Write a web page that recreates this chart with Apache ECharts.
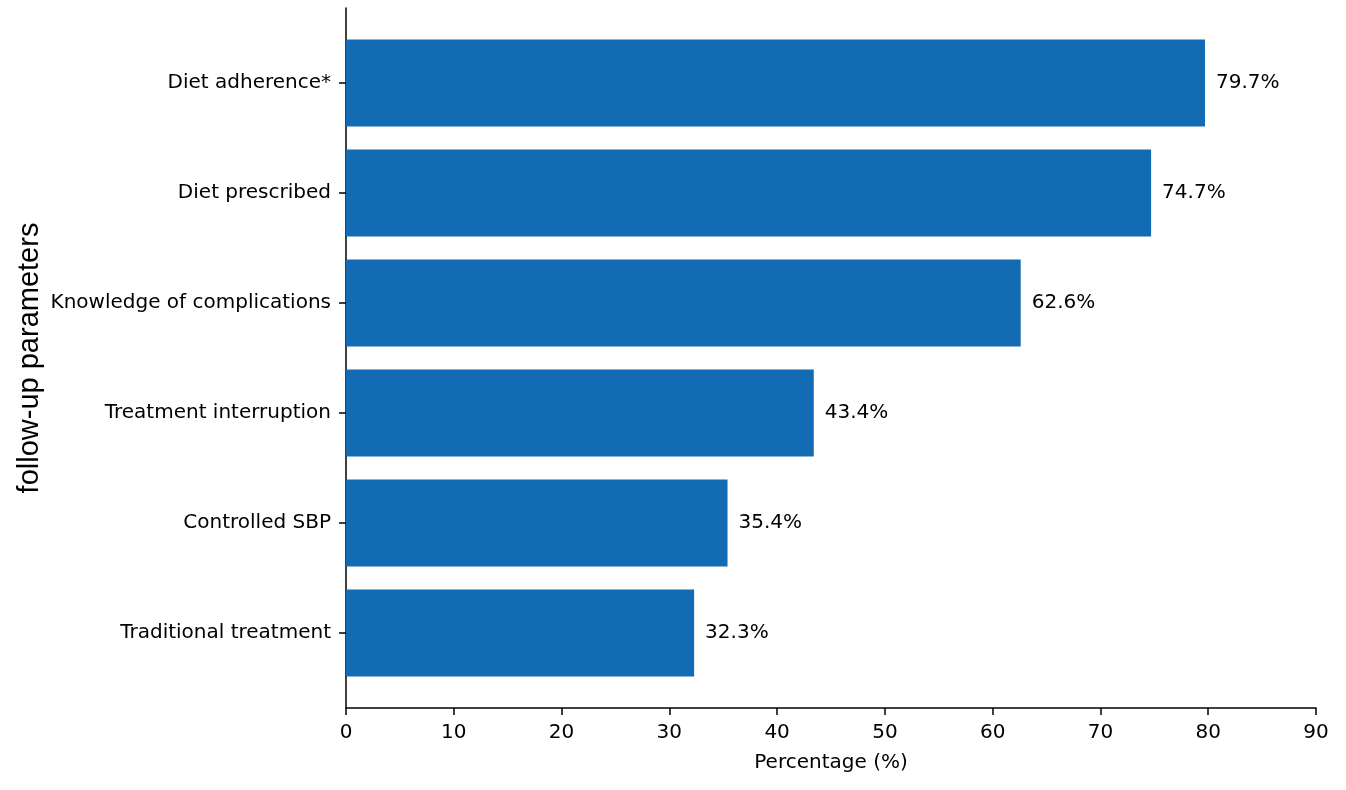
<!DOCTYPE html>
<html>
<head>
    <meta charset="utf-8">
    <title>follow-up parameters</title>
    <script src="https://cdn.jsdelivr.net/npm/echarts@6/dist/echarts.min.js"></script>
    <style>
        html, body { margin: 0; padding: 0; background: #ffffff; }
    </style>
</head>
<body>
    <div id="main" style="width: 1346px;height:790px;"></div>
    <script type="text/javascript">
        // data (top to bottom)
        const categories = [
            'Diet adherence*',
            'Diet prescribed',
            'Knowledge of complications',
            'Treatment interruption',
            'Controlled SBP',
            'Traditional treatment'
        ]
        const percentages = [79.7, 74.7, 62.6, 43.4, 35.4, 32.3]
        const xTicks = [0, 10, 20, 30, 40, 50, 60, 70, 80, 90]

        const font = 'DejaVu Sans'
        var myChart = echarts.init(document.getElementById('main'));

        var option = {
            backgroundColor: '#ffffff',
            animation: false,
            // grid 0 holds the bars (category bands of 110px), grid 1 draws the spines
            grid: [
                { left: 346, right: 30, top: 28, bottom: 102, outerBoundsMode: 'none' },
                { left: 346, right: 30, top: 8, bottom: 82, outerBoundsMode: 'none' }
            ],
            xAxis: [{
                gridIndex: 0,
                type: 'value',
                min: xTicks[0],
                max: xTicks[xTicks.length - 1],
                interval: 10,
                show: false
            }, {
                gridIndex: 1,
                type: 'value',
                min: xTicks[0],
                max: xTicks[xTicks.length - 1],
                interval: 10,
                name: 'Percentage (%)',
                nameLocation: 'middle',
                nameGap: 45,
                nameTextStyle: { fontFamily: font, fontSize: 20, color: '#000' },
                axisLine: { show: true, lineStyle: { color: '#000', width: 1.5 } },
                axisTick: { show: true, length: 7, lineStyle: { color: '#000', width: 1.5 } },
                axisLabel: { fontFamily: font, fontSize: 20, color: '#000', margin: 15 },
                splitLine: { show: false }
            }],
            yAxis: [{
                gridIndex: 0,
                type: 'category',
                inverse: true,
                data: categories,
                axisLine: { show: false },
                axisTick: { show: true, alignWithLabel: true, length: 7, lineStyle: { color: '#000', width: 1.5 } },
                axisLabel: { fontFamily: font, fontSize: 20, color: '#000', margin: 15 }
            }, {
                gridIndex: 1,
                type: 'value',
                min: 0,
                max: 1,
                name: 'follow-up parameters',
                nameLocation: 'middle',
                nameGap: 302,
                nameRotate: 90,
                nameTextStyle: { fontFamily: 'Liberation Sans', fontSize: 29, color: '#000' },
                axisLine: { show: true, lineStyle: { color: '#000', width: 1.5 } },
                axisTick: { show: false },
                axisLabel: { show: false },
                splitLine: { show: false }
            }],
            series: [{
                name: 'Percentage',
                type: 'bar',
                xAxisIndex: 0,
                yAxisIndex: 0,
                data: percentages,
                barWidth: 87,
                itemStyle: { color: '#136cb3' },
                label: {
                    show: true,
                    position: 'right',
                    distance: 11,
                    formatter: (p) => p.value.toFixed(1) + '%',
                    fontFamily: font,
                    fontSize: 20,
                    color: '#000'
                }
            }]
        };

        myChart.setOption(option);
    </script>
</body>
</html>
